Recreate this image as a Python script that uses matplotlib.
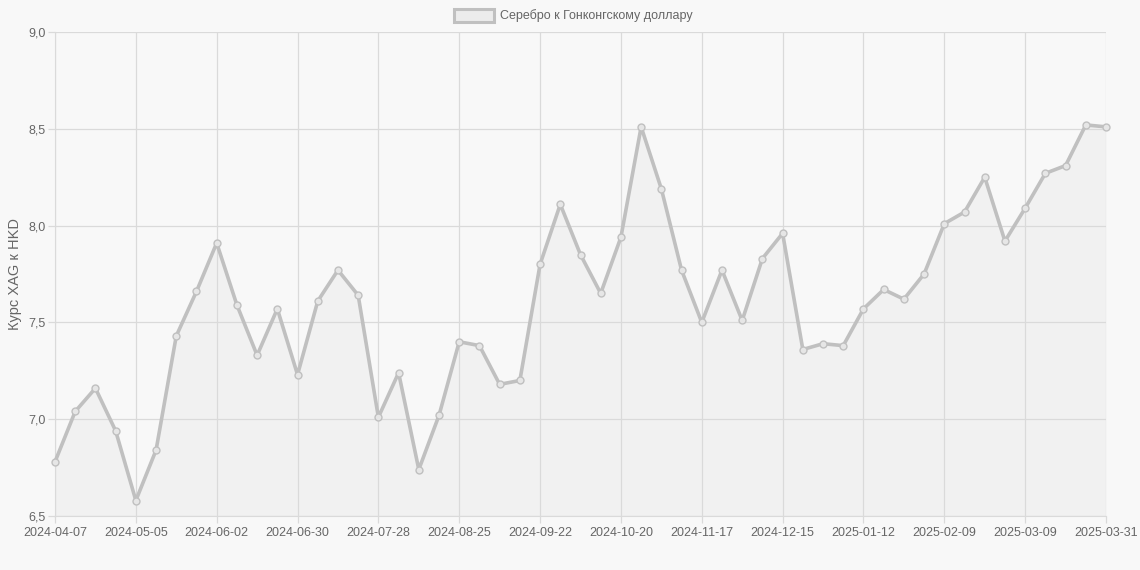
import matplotlib
matplotlib.use("Agg")
import matplotlib.pyplot as plt
from matplotlib.patches import Rectangle

dates = ["2024-04-07", "2024-04-14", "2024-04-21", "2024-04-28", "2024-05-05", "2024-05-12",
         "2024-05-19", "2024-05-26", "2024-06-02", "2024-06-09", "2024-06-16", "2024-06-23",
         "2024-06-30", "2024-07-07", "2024-07-14", "2024-07-21", "2024-07-28", "2024-08-04",
         "2024-08-11", "2024-08-18", "2024-08-25", "2024-09-01", "2024-09-08", "2024-09-15",
         "2024-09-22", "2024-09-29", "2024-10-06", "2024-10-13", "2024-10-20", "2024-10-27",
         "2024-11-03", "2024-11-10", "2024-11-17", "2024-11-24", "2024-12-01", "2024-12-08",
         "2024-12-15", "2024-12-22", "2024-12-29", "2025-01-05", "2025-01-12", "2025-01-19",
         "2025-01-26", "2025-02-02", "2025-02-09", "2025-02-16", "2025-02-23", "2025-03-02",
         "2025-03-09", "2025-03-16", "2025-03-23", "2025-03-30", "2025-03-31"]
values = [6.78, 7.04, 7.16, 6.94, 6.58, 6.84, 7.43, 7.66, 7.91, 7.59, 7.33, 7.57,
          7.23, 7.61, 7.77, 7.64, 7.01, 7.24, 6.74, 7.02, 7.40, 7.38, 7.18, 7.20,
          7.80, 8.11, 7.85, 7.65, 7.94, 8.51, 8.19, 7.77, 7.50, 7.77, 7.51, 7.83,
          7.96, 7.36, 7.39, 7.38, 7.57, 7.67, 7.62, 7.75, 8.01, 8.07, 8.25, 7.92,
          8.09, 8.27, 8.31, 8.52, 8.51]
tick_idx = [0, 4, 8, 12, 16, 20, 24, 28, 32, 36, 40, 44, 48, 52]
yticks = [6.5, 7.0, 7.5, 8.0, 8.5, 9.0]
series_name = "Серебро к Гонконгскому доллару"
ylabel = "Курс XAG к HKD"

plt.rcParams['font.family'] = ['Liberation Sans', 'DejaVu Sans']
bg = "#f8f8f8"
txt = "#666666"
grid = "#dadada"
line_c = "#c0c0c0"

fig = plt.figure(figsize=(11.4, 5.7), dpi=100, facecolor=bg)
ax = fig.add_axes([55/1140, 54/570, 1051/1140, 484/570], facecolor=bg)

x = list(range(len(values)))
ax.fill_between(x, values, 6.5, color="#f1f1f1", zorder=1, linewidth=0)
ax.plot(x, values, color=line_c, linewidth=2.6, zorder=3,
        marker='o', markersize=5, markerfacecolor="#e6e6e6", markeredgecolor=line_c,
        markeredgewidth=1.0, clip_on=False)

ax.set_xlim(0, len(values) - 1)
ax.set_ylim(6.5, 9.0)
ax.set_xticks(tick_idx)
ax.set_xticklabels([dates[i] for i in tick_idx])
ax.set_yticks(yticks)
ax.set_yticklabels([f"{v:.1f}".replace('.', ',') for v in yticks])
ax.set_axisbelow('line')
ax.grid(True, color=grid, linewidth=0.9)
for s in ax.spines.values():
    s.set_visible(False)
ax.spines['left'].set_visible(True)
ax.spines['bottom'].set_visible(True)
ax.spines['left'].set_color(grid)
ax.spines['bottom'].set_color(grid)
ax.tick_params(axis='both', colors=grid, labelcolor=txt, labelsize=9, length=5, width=0.9)
ax.tick_params(axis='x', pad=3)
ax.tick_params(axis='y', pad=2)
ax.set_ylabel(ylabel, color=txt, fontsize=10.5, labelpad=4)

# legend
fig.patches.append(Rectangle((454/1140, 1 - 22/570), 40/1140, 13/570, transform=fig.transFigure,
                             facecolor="#ececec", edgecolor=line_c, linewidth=2.2))
fig.text(500/1140, 1 - 15.5/570, series_name, color=txt, fontsize=9, va='center', ha='left')

fig.savefig("out.png", dpi=100, facecolor=bg)
